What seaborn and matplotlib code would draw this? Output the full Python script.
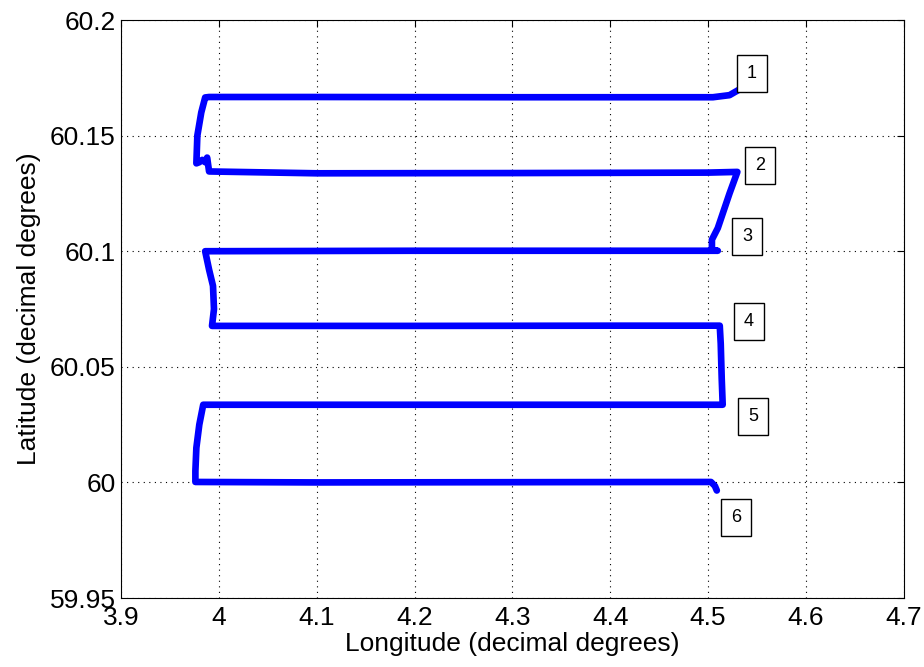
import matplotlib
matplotlib.use("Agg")
import matplotlib.pyplot as plt
import seaborn as sns
import pandas as pd

# Track (longitude, latitude)
lon = [4.531, 4.522, 4.505, 4.300, 4.100, 3.990, 3.986, 3.982, 3.978, 3.977,
       3.980, 3.983, 3.986, 3.988, 3.990, 4.100, 4.300, 4.500, 4.530,
       4.522, 4.510, 4.504, 4.504, 4.510, 4.400, 4.200, 3.986, 3.990, 3.994,
       3.995, 3.993, 4.200, 4.400, 4.512, 4.513, 4.514, 4.515, 4.300, 4.100,
       3.984, 3.980, 3.977, 3.976, 3.976, 4.100, 4.300, 4.503, 4.507, 4.509]
lat = [60.1697, 60.1675, 60.1666, 60.1666, 60.1667, 60.1667, 60.1665, 60.160, 60.150, 60.138,
       60.1385, 60.1395, 60.1385, 60.1405, 60.1345, 60.1337, 60.1338, 60.1340, 60.1343,
       60.1250, 60.1100, 60.1050, 60.1005, 60.1002, 60.1002, 60.1002, 60.1000, 60.0920, 60.0850,
       60.0750, 60.0677, 60.0677, 60.0678, 60.0678, 60.0600, 60.0450, 60.0336, 60.0336, 60.0336,
       60.0336, 60.0250, 60.0150, 60.0050, 60.0002, 60.0000, 60.0001, 60.0002, 59.9985, 59.9965]

label_text = ["1", "2", "3", "4", "5", "6"]
label_lon = [4.545, 4.553, 4.540, 4.542, 4.546, 4.529]
label_lat = [60.1770, 60.1370, 60.1065, 60.0695, 60.0285, 59.9850]

x_ticks = [3.9, 4.0, 4.1, 4.2, 4.3, 4.4, 4.5, 4.6, 4.7]
x_tick_labels = ["3.9", "4", "4.1", "4.2", "4.3", "4.4", "4.5", "4.6", "4.7"]
y_ticks = [59.95, 60.0, 60.05, 60.1, 60.15, 60.2]
y_tick_labels = ["59.95", "60", "60.05", "60.1", "60.15", "60.2"]

sns.set_style("white")
plt.rcParams['font.family'] = ['Liberation Sans', 'DejaVu Sans']
plt.rcParams['text.color'] = 'black'
plt.rcParams['axes.labelcolor'] = 'black'

df = pd.DataFrame({"lon": lon, "lat": lat})

fig = plt.figure(figsize=(9.24, 6.67), dpi=100)
ax = fig.add_axes([0.131, 0.1034, 0.847, 0.8666])

sns.lineplot(data=df, x="lon", y="lat", sort=False, estimator=None,
             color=(0, 0, 1), linewidth=4.8, ax=ax)

for t, x, y in zip(label_text, label_lon, label_lat):
    ax.text(x, y, t, fontsize=13, ha="center", va="center", color="black",
            bbox=dict(boxstyle="square,pad=0.55", fc="white", ec="black", lw=1.0))

ax.set_xlim(3.9, 4.7)
ax.set_ylim(59.95, 60.2)
ax.set_xticks(x_ticks)
ax.set_xticklabels(x_tick_labels)
ax.set_yticks(y_ticks)
ax.set_yticklabels(y_tick_labels)
ax.grid(True, linestyle=(0, (1, 4)), color="black", linewidth=0.8)
ax.tick_params(direction="in", top=True, right=True, length=5, labelsize=19,
               colors="black", labelcolor="black")
ax.tick_params(axis="x", pad=6)
ax.tick_params(axis="y", pad=4)
for s in ax.spines.values():
    s.set_color("black")
    s.set_linewidth(0.8)
ax.set_xlabel("Longitude (decimal degrees)", fontsize=19, labelpad=1, color="black")
ax.set_ylabel("Latitude (decimal degrees)", fontsize=19, labelpad=6, color="black")

fig.savefig("out.png", dpi=100)
